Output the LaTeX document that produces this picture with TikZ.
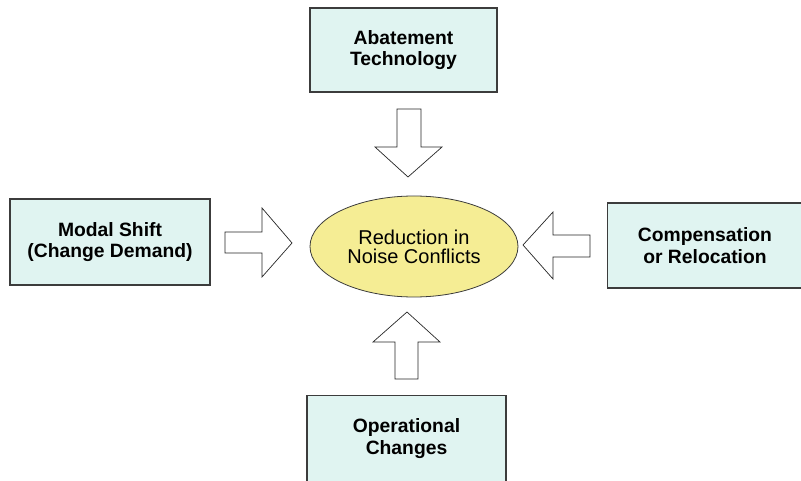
\documentclass[tikz,border=0pt]{standalone}
\usepackage{fontspec}
\setmainfont{Liberation Sans}
\usetikzlibrary{shapes.geometric}
\definecolor{boxfill}{RGB}{224,244,241}
\definecolor{ellfill}{RGB}{245,237,148}
\definecolor{edgecol}{RGB}{60,60,60}
\begin{document}
\begin{tikzpicture}[x=1pt,y=-1pt,
  factor/.style={draw=edgecol, line width=1.1pt, fill=boxfill, inner sep=0pt,
    align=center, font=\fontsize{19.3}{21.5}\selectfont\bfseries},
  goal/.style={ellipse, draw=edgecol, line width=0.8pt, fill=ellfill, inner sep=0pt,
    minimum width=208pt, minimum height=101pt, align=center,
    font=\fontsize{20}{19}\selectfont},
  blockarrow/.style={draw=black!85, line width=0.7pt, fill=white, line join=miter}]
\useasboundingbox (0,0) rectangle (801,481);
\fill[white] (0,0) rectangle (801,481);

% boxes
\node[factor, minimum width=187pt, minimum height=84pt] (abate) at (403.5,50) {Abatement\\Technology};
\node[factor, minimum width=200pt, minimum height=86pt] (modal) at (110,242) {Modal Shift\\(Change Demand)};
\node[factor, minimum width=195pt, minimum height=85pt] (comp) at (705,245.5) {Compensation\\or Relocation};
\node[factor, minimum width=199pt, minimum height=86pt] (oper) at (406.5,438.5) {Operational\\Changes};

% central ellipse
\node[goal] (goal) at (414,246.5) {Reduction in\\Noise Conflicts};

% block arrows
% top, pointing down
\draw[blockarrow] (397,109) -- (421,109) -- (421,147) -- (442,147) -- (408,177)
  -- (375,147) -- (397,147) -- cycle;
% left, pointing right
\draw[blockarrow] (225,232) -- (262,232) -- (262,208) -- (292,243) -- (262,277)
  -- (262,253) -- (225,253) -- cycle;
% right, pointing left
\draw[blockarrow] (590,235) -- (553,235) -- (553,212) -- (523,245) -- (553,279)
  -- (553,257) -- (590,257) -- cycle;
% bottom, pointing up
\draw[blockarrow] (395,379) -- (395,342) -- (373,342) -- (407,312) -- (440,342)
  -- (418,342) -- (418,379) -- cycle;
\end{tikzpicture}
\end{document}
